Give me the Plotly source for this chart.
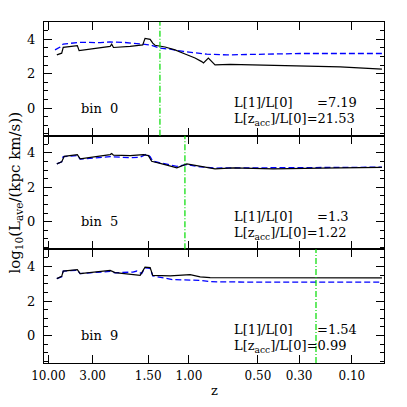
import numpy as np
import plotly.graph_objects as go
from plotly.subplots import make_subplots

# cosmologia usada para converter z em tempo cosmico (Gyr)
OM, OL, H = 0.25, 0.75, 0.73

def t_of_z(z):
    z = np.asarray(z, dtype=float)
    return 9.778 / H * 2.0 / (3.0 * np.sqrt(OL)) * np.arcsinh(np.sqrt(OL / OM) * (1.0 + z) ** -1.5)

# eixo x: rotulos em redshift
z_ticks = [10.0, 3.0, 1.5, 1.0, 0.5, 0.3, 0.1]
z_labels = ["10.00", "3.00", "1.50", "1.00", "0.50", "0.30", "0.10"]

bins = ["bin  0", "bin  5", "bin  9"]
ratio_1 = ["=7.19", "=1.3", "=1.54"]
ratio_acc = ["=21.53", "=1.22", "=0.99"]
z_acc = [1.33, 1.04, 0.23]

# bin 0 (tempo em Gyr, log10 L)
t_b0_all = [0.82, 1.01, 1.07, 1.62, 1.69, 2.31, 2.90, 2.96, 3.03, 3.68, 4.17, 4.26, 4.46, 4.56,
            4.65, 5.04, 5.43, 5.82, 6.21, 6.47, 6.54, 6.73, 6.99, 7.58, 8.75, 10.31, 11.87, 13.50]
L_b0_all = [3.09, 3.19, 3.53, 3.63, 3.34, 3.46, 3.58, 3.71, 3.52, 3.58, 3.67, 4.05, 3.99, 3.77,
            3.65, 3.55, 3.38, 3.14, 2.91, 2.70, 2.62, 2.90, 2.51, 2.54, 2.51, 2.47, 2.39, 2.26]
t_b0_ave = [0.75, 0.95, 1.07, 1.73, 2.51, 2.90, 3.48, 4.20, 4.46, 4.85, 5.24, 5.76, 6.21, 6.67,
            7.45, 8.75, 10.31, 11.87, 13.50]
L_b0_ave = [3.38, 3.55, 3.72, 3.82, 3.80, 3.84, 3.81, 3.71, 3.67, 3.48, 3.42, 3.29, 3.20, 3.13,
            3.09, 3.14, 3.17, 3.17, 3.17]

# bin 5
t_b5_all = [0.82, 1.01, 1.11, 1.62, 1.73, 2.31, 2.90, 2.96, 3.03, 3.68, 4.20, 4.39, 4.52, 5.04,
            5.50, 5.89, 6.41, 6.80, 6.99, 7.70, 9.26, 11.09, 13.50]
L_b5_all = [3.36, 3.48, 3.80, 3.90, 3.65, 3.78, 3.90, 3.96, 3.87, 3.84, 3.90, 3.84, 3.51, 3.32,
            3.13, 3.36, 3.22, 3.12, 3.07, 3.13, 3.07, 3.12, 3.16]
t_b5_ave = [0.82, 1.01, 1.07, 1.62, 1.73, 2.31, 2.90, 3.68, 4.07, 4.33, 4.46, 4.56, 5.04, 5.50,
            5.89, 6.41, 6.99, 8.75, 11.09, 13.50]
L_b5_ave = [3.36, 3.48, 3.78, 3.84, 3.64, 3.71, 3.78, 3.72, 3.75, 3.94, 3.78, 3.52, 3.38, 3.22,
            3.32, 3.19, 3.12, 3.13, 3.14, 3.17]

# bin 9
t_b9_all = [0.82, 1.01, 1.07, 1.62, 1.73, 2.31, 2.64, 2.90, 3.09, 3.68, 4.07, 4.26, 4.46, 4.56,
            5.24, 6.02, 6.41, 6.80, 8.75, 11.09, 13.50]
L_b9_all = [3.30, 3.43, 3.74, 3.82, 3.59, 3.67, 3.74, 3.78, 3.65, 3.58, 3.49, 3.97, 3.94, 3.49,
            3.46, 3.53, 3.40, 3.36, 3.35, 3.34, 3.34]
t_b9_ave = [0.82, 1.01, 1.07, 1.62, 1.73, 2.31, 2.90, 3.09, 3.79, 3.94, 4.13, 4.26, 4.46, 4.56,
            5.35, 6.41, 6.80, 8.75, 11.09, 13.50]
L_b9_ave = [3.30, 3.41, 3.74, 3.78, 3.59, 3.64, 3.72, 3.64, 3.68, 3.74, 3.59, 3.93, 3.90, 3.46,
            3.24, 3.20, 3.12, 3.09, 3.07, 3.09]

series = [
    (t_b0_all, L_b0_all, t_b0_ave, L_b0_ave),
    (t_b5_all, L_b5_all, t_b5_ave, L_b5_ave),
    (t_b9_all, L_b9_all, t_b9_ave, L_b9_ave),
]

FONT = "DejaVu Serif"

fig = make_subplots(rows=3, cols=1, shared_xaxes=True, vertical_spacing=0)

for i, (tx, ly, tb, lb) in enumerate(series):
    row = i + 1
    fig.add_trace(go.Scatter(x=tb, y=lb, mode="lines",
                             line=dict(color="#0000ff", width=1.3, dash="6px,3px")),
                  row=row, col=1)
    fig.add_trace(go.Scatter(x=tx, y=ly, mode="lines",
                             line=dict(color="black", width=1.2)),
                  row=row, col=1)
    fig.add_vline(x=float(t_of_z(z_acc[i])), line=dict(color="#00dd00", width=1.2, dash="6px,2px,1px,2px"),
                  row=row, col=1)

    xr = "x" if row == 1 else f"x{row}"
    yr = "y" if row == 1 else f"y{row}"
    fig.add_annotation(x=1.70, y=0.0, xref=xr, yref=yr, text=bins[i], showarrow=False,
                       xanchor="left", yanchor="middle", font=dict(family=FONT, size=13, color="black"))
    fig.add_annotation(x=7.66, y=0.32, xref=xr, yref=yr, text="L[1]/L[0]", showarrow=False,
                       xanchor="left", yanchor="middle", font=dict(family=FONT, size=13, color="black"))
    fig.add_annotation(x=10.89, y=0.32, xref=xr, yref=yr, text=ratio_1[i], showarrow=False,
                       xanchor="left", yanchor="middle", font=dict(family=FONT, size=13, color="black"))
    fig.add_annotation(x=7.66, y=-0.66, xref=xr, yref=yr,
                       text="L[z<sub>acc</sub>]/L[0]" + ratio_acc[i], showarrow=False,
                       xanchor="left", yanchor="middle", font=dict(family=FONT, size=13, color="black"))

axis_common = dict(showline=True, linecolor="black", linewidth=1.2, mirror="ticks",
                   ticks="inside", tickcolor="black", tickwidth=1, showgrid=False, zeroline=False)

for row in range(1, 4):
    fig.update_yaxes(range=[-1.6, 5.0], tickvals=[0, 2, 4], ticklen=8,
                     minor=dict(ticks="inside", dtick=0.5, tick0=0, ticklen=4, tickcolor="black", showgrid=False),
                     tickfont=dict(family=FONT, size=13, color="black"), ticklabelstandoff=5,
                     row=row, col=1, **axis_common)
    fig.update_xaxes(range=[0.32, 13.58], tickvals=t_of_z(z_ticks).tolist(), ticktext=z_labels,
                     ticklen=8, showticklabels=(row == 3),
                     tickfont=dict(family=FONT, size=12, color="black"), ticklabelstandoff=1,
                     row=row, col=1, **axis_common)

fig.add_annotation(x=-0.085, y=0.5, xref="paper", yref="paper", textangle=-90, showarrow=False,
                   text="log<sub>10</sub>(L<sub>ave</sub>/(kpc km/s))", xanchor="center", yanchor="middle",
                   font=dict(family=FONT, size=15, color="black"))
fig.add_annotation(x=0.5, y=-0.08, xref="paper", yref="paper", text="z", showarrow=False,
                   xanchor="center", yanchor="middle", font=dict(family=FONT, size=13, color="black"))

fig.update_layout(width=407, height=407, margin=dict(l=44, r=23, t=22, b=44),
                  plot_bgcolor="white", paper_bgcolor="white", showlegend=False)

fig.write_html("out.html", config={"displayModeBar": False},
               post_script="document.body.style.margin='0px';")
